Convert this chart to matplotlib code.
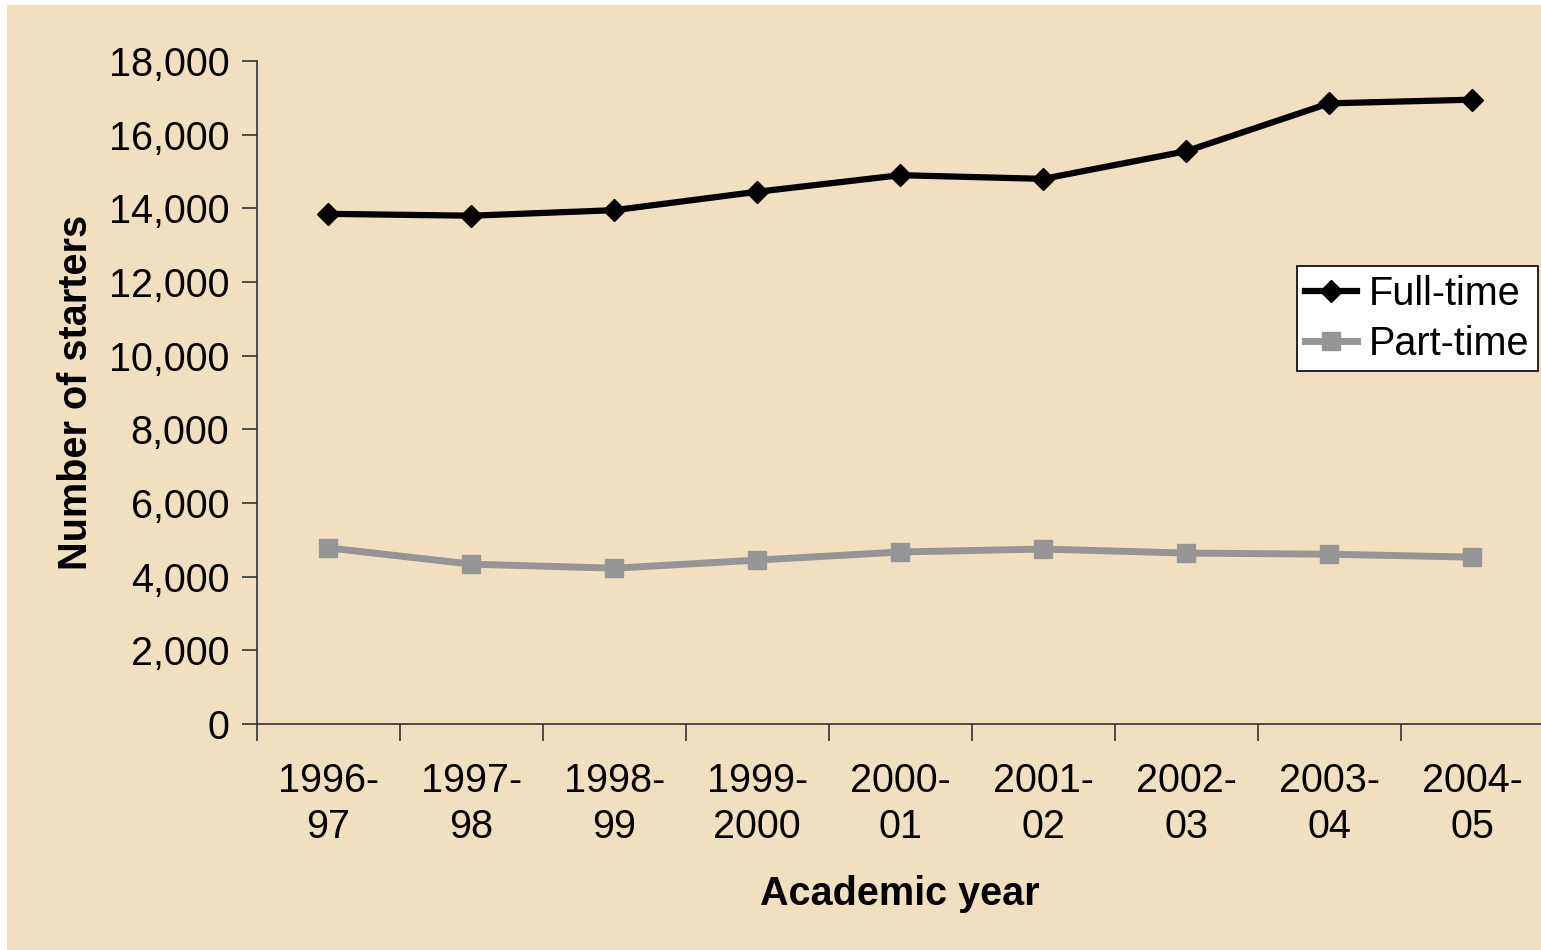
import numpy as np
import matplotlib
matplotlib.use('Agg')
import matplotlib.pyplot as plt
from matplotlib.patches import Rectangle
from matplotlib.ticker import FuncFormatter

plt.rcParams['font.family'] = ['Liberation Sans', 'DejaVu Sans']

# data
years = ['1996-\n97', '1997-\n98', '1998-\n99', '1999-\n2000', '2000-\n01',
         '2001-\n02', '2002-\n03', '2003-\n04', '2004-\n05']
full_time = [13850, 13800, 13950, 14450, 14900, 14800, 15550, 16850, 16950]
part_time = [4780, 4340, 4230, 4450, 4670, 4750, 4640, 4610, 4530]

W, H = 1541, 950
fs = 28.5
fig = plt.figure(figsize=(W / 100, H / 100), dpi=100, facecolor='white')

# parchment-coloured panel (white margin on top and left)
fig.patches.append(Rectangle((7 / W, 0), 1, 1 - 5 / H, transform=fig.transFigure,
                             facecolor='#F0E0BF', edgecolor='none', zorder=-10))

ax = fig.add_axes([257 / W, 1 - 724 / H, 1286.5 / W, 663 / H])
ax.set_facecolor('none')

x = np.arange(len(years))
ax.plot(x, full_time, color='black', lw=4.5, marker='D', ms=11,
        label='Full-time', zorder=3)
ax.plot(x, part_time, color='#969696', lw=5, marker='s', ms=13,
        label='Part-time', zorder=3)

ax.set_xlim(-0.5, len(years) - 0.5)
ax.set_ylim(0, 18000)
ax.set_yticks(np.arange(0, 18001, 2000))
ax.yaxis.set_major_formatter(FuncFormatter(lambda v, p: f'{int(v):,}'))

# tick marks between categories, labels centred on categories
ax.set_xticks(np.arange(-0.5, len(years), 1.0))
ax.set_xticklabels([])
ax.set_xticks(x, minor=True)
ax.set_xticklabels(years, minor=True)
for lab in ax.get_xticklabels(minor=True):
    lab.set_linespacing(1.27)
ax.tick_params(axis='x', which='major', length=12, width=1.2, color='#333333')
ax.tick_params(axis='x', which='minor', length=0, pad=27, labelsize=fs)
ax.tick_params(axis='y', length=11, width=1.2, color='#333333', pad=9, labelsize=fs)

for s in ['top', 'right']:
    ax.spines[s].set_visible(False)
for s in ['left', 'bottom']:
    ax.spines[s].set_color('#333333')
    ax.spines[s].set_linewidth(1.2)

ax.set_xlabel('Academic year', fontsize=fs, fontweight='bold', labelpad=21)
ax.set_ylabel('Number of starters', fontsize=fs, fontweight='bold', labelpad=10)

leg = ax.legend(loc='upper right', bbox_to_anchor=(1538 / W, 1 - 266 / H),
                bbox_transform=fig.transFigure, fontsize=fs, frameon=True,
                fancybox=False, edgecolor='black', facecolor='white', framealpha=1,
                borderpad=0.22, handlelength=1.3, handletextpad=0.3,
                labelspacing=0.3, borderaxespad=0)
leg.get_frame().set_linewidth(1.2)

fig.savefig('out.png', dpi=100, facecolor=fig.get_facecolor())
